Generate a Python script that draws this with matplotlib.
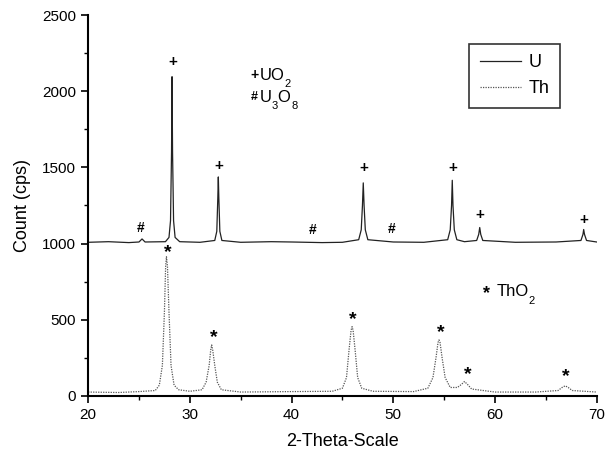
import matplotlib
matplotlib.use("Agg")
import matplotlib.pyplot as plt
from matplotlib.ticker import MultipleLocator

plt.rcParams['font.family'] = ['Liberation Sans', 'DejaVu Sans']
plt.rcParams['mathtext.default'] = 'regular'

# U trace (2-theta, counts)
u_x = [20, 22, 24, 25.0, 25.3, 25.6, 27.6, 27.95, 28.1, 28.2, 28.25, 28.3, 28.4, 28.55, 29,
       31, 32.45, 32.65, 32.75, 32.8, 32.85, 32.95, 33.15, 35, 38, 40, 43, 45,
       46.6, 46.85, 46.97, 47.05, 47.13, 47.25, 47.5, 50, 53,
       55.35, 55.6, 55.73, 55.8, 55.87, 56.0, 56.25, 57, 58.2, 58.4, 58.5, 58.6, 58.8,
       62, 66, 68.45, 68.65, 68.72, 68.8, 69.0, 70]
u_y = [1008, 1012, 1006, 1010, 1030, 1010, 1012, 1040, 1150, 1600, 2095, 1600, 1150, 1040, 1012,
       1008, 1020, 1080, 1300, 1437, 1300, 1080, 1020, 1008, 1012, 1010, 1006, 1008,
       1025, 1090, 1250, 1398, 1250, 1090, 1025, 1010, 1008,
       1025, 1090, 1250, 1415, 1250, 1090, 1025, 1012, 1020, 1060, 1105, 1060, 1020,
       1008, 1010, 1020, 1060, 1092, 1060, 1020, 1010]

# Th trace
th_x = [20, 23, 25, 26.6, 27.0, 27.3, 27.5, 27.62, 27.7, 27.8, 27.95, 28.15, 28.45, 28.9,
        30, 31.2, 31.6, 31.9, 32.05, 32.15, 32.25, 32.45, 32.7, 33.1, 35, 40, 44,
        45.0, 45.4, 45.65, 45.85, 45.95, 46.05, 46.25, 46.5, 46.9, 48, 52,
        53.4, 53.9, 54.2, 54.4, 54.5, 54.6, 54.8, 55.1, 55.6, 56.3, 56.7, 57.0, 57.3, 57.7,
        60, 64, 66.2, 66.6, 66.9, 67.2, 67.6, 70]
th_y = [25, 22, 28, 35, 70, 200, 550, 850, 913, 850, 550, 200, 70, 40,
        30, 40, 90, 200, 300, 334, 300, 200, 90, 40, 25, 28, 30,
        50, 120, 300, 430, 454, 430, 300, 120, 50, 30, 28,
        50, 120, 250, 350, 367, 350, 250, 120, 55, 55, 75, 94, 75, 45,
        25, 25, 35, 55, 66, 55, 35, 25]

# phase markers
plus_x = [28.3, 32.85, 47.1, 55.85, 58.5, 68.7]
plus_y = [2190, 1509, 1496, 1496, 1190, 1153]
hash_x = [25.2, 42.1, 49.8]
hash_y = [1101, 1088, 1094]
star_x = [27.8, 32.35, 46.0, 54.65, 57.3, 67.0]
star_y = [939, 382, 498, 415, 142, 126]

fig = plt.figure(figsize=(6.12, 4.55), dpi=100)
ax = fig.add_axes([0.144, 0.130, 0.831, 0.837])

ax.plot(u_x, u_y, color='#222222', lw=0.9, label='U')
ax.plot(th_x, th_y, color='#555555', lw=0.9, ls=(0, (1, 1)), label='Th')

for x, y in zip(plus_x, plus_y):
    ax.text(x, y, '+', ha='center', va='center', fontsize=11, fontweight='bold')
for x, y in zip(hash_x, hash_y):
    ax.text(x, y, '#', ha='center', va='center', fontsize=10, fontweight='bold')
for x, y in zip(star_x, star_y):
    ax.text(x, y, '*', ha='center', va='center', fontsize=14, fontweight='bold')

# phase legend texts (subscripts drawn as separate lowered text)
ax.text(36.0, 2103, '+', ha='left', va='center', fontsize=10, fontweight='bold')
ax.text(36.9, 2103, 'UO', ha='left', va='center', fontsize=12)
ax.text(39.3, 2045, '2', ha='left', va='center', fontsize=8)
ax.text(36.0, 1961, '#', ha='left', va='center', fontsize=9, fontweight='bold')
ax.text(36.9, 1961, 'U', ha='left', va='center', fontsize=12)
ax.text(38.05, 1905, '3', ha='left', va='center', fontsize=8)
ax.text(38.6, 1961, 'O', ha='left', va='center', fontsize=12)
ax.text(40.0, 1905, '8', ha='left', va='center', fontsize=8)
ax.text(59.15, 670, '*', ha='center', va='center', fontsize=13, fontweight='bold')
ax.text(60.2, 683, 'ThO', ha='left', va='center', fontsize=12)
ax.text(63.3, 620, '2', ha='left', va='center', fontsize=8)

ax.set_xlim(20, 70)
ax.set_ylim(0, 2500)
ax.xaxis.set_major_locator(MultipleLocator(10))
ax.xaxis.set_minor_locator(MultipleLocator(5))
ax.yaxis.set_major_locator(MultipleLocator(500))
ax.yaxis.set_minor_locator(MultipleLocator(250))
ax.tick_params(which='major', direction='out', length=5, width=1.2, labelsize=11)
ax.tick_params(which='minor', direction='out', length=3, width=1.0)

for s in ['top', 'right']:
    ax.spines[s].set_visible(False)
for s in ['left', 'bottom']:
    ax.spines[s].set_linewidth(1.5)

ax.set_xlabel('2-Theta-Scale', fontsize=13, labelpad=8)
ax.set_ylabel('Count (cps)', fontsize=13, labelpad=8)

leg = ax.legend(loc='upper right', bbox_to_anchor=(0.928, 0.925), fontsize=13,
                frameon=True, fancybox=False, edgecolor='black', handlelength=2.3,
                borderpad=0.6, labelspacing=0.5, borderaxespad=0, handletextpad=0.4)
leg.get_frame().set_linewidth(1.2)

fig.savefig('out.png', dpi=100)
